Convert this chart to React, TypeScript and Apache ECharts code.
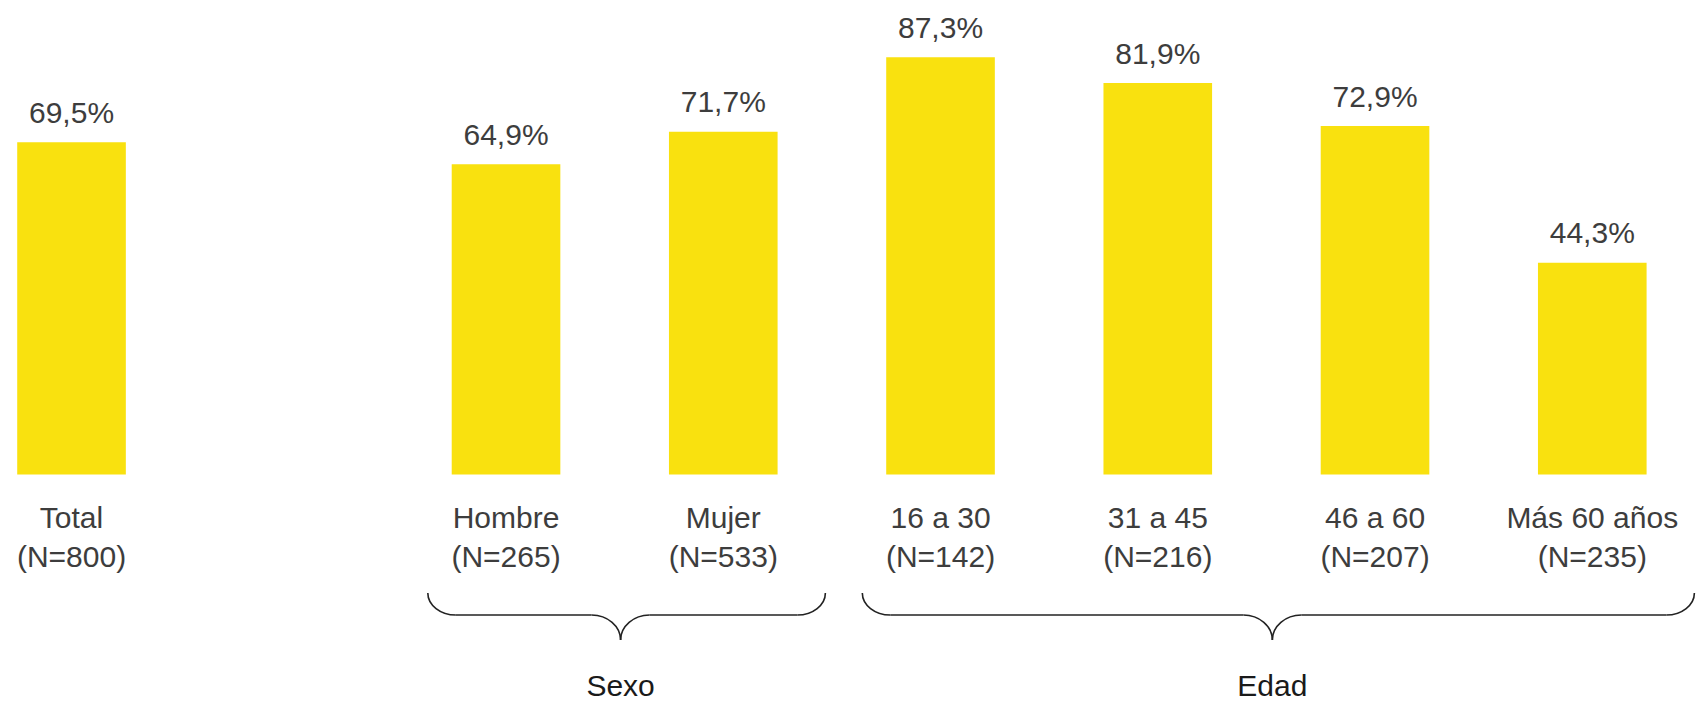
import { useEffect, useRef } from 'react';
import * as echarts from 'echarts';

const categories = [
  'Total\n(N=800)',
  '',
  'Hombre\n(N=265)',
  'Mujer\n(N=533)',
  '16 a 30\n(N=142)',
  '31 a 45\n(N=216)',
  '46 a 60\n(N=207)',
  'Más 60 años\n(N=235)',
];
const values: (number | null)[] = [69.5, null, 64.9, 71.7, 87.3, 81.9, 72.9, 44.3];
const groupNames = ['Sexo', 'Edad'];
const groupFirst = [2, 4];
const groupLast = [3, 7];

const FONT = '"Liberation Sans", Arial, sans-serif';
const BAR = '#F9E10F';

export default function App() {
  const ref = useRef<HTMLDivElement>(null);
  useEffect(() => {
    if (!ref.current) return;
    const chart = echarts.init(ref.current, null, { renderer: 'svg' });
    chart.setOption({
      animation: false,
      grid: {
        left: -37.1,
        width: 1738,
        top: 44.3,
        bottom: 226.5,
        containLabel: false,
        outerBoundsMode: 'none',
      },
      xAxis: {
        type: 'category',
        data: categories,
        axisLine: { show: false },
        axisTick: { show: false },
        axisLabel: {
          interval: 0,
          margin: 23.5,
          fontSize: 30,
          lineHeight: 39,
          color: '#3d3d3d',
          fontFamily: FONT,
          hideOverlap: false,
        },
      },
      yAxis: { type: 'value', min: 0, max: 90, show: false },
      series: [
        {
          type: 'bar',
          data: values,
          barWidth: '50%',
          itemStyle: { color: BAR },
          label: {
            show: true,
            position: 'top',
            distance: 15,
            fontSize: 30,
            color: '#3d3d3d',
            fontFamily: FONT,
            formatter: (p: any) => (p.value == null ? '' : p.value.toFixed(1).replace('.', ',') + '%'),
          },
        },
      ],
    });

    const px = (i: number) => chart.convertToPixel({ xAxisIndex: 0 }, i) as number;
    const band = px(1) - px(0);
    const yTop = 593;
    const yMid = 615;
    const yTip = 640;
    const style = { stroke: '#222', lineWidth: 1.6, fill: 'none' };
    const elements: any[] = [];
    groupNames.forEach((name, g) => {
      const xl = px(groupFirst[g]) - 0.36 * band;
      const xr = px(groupLast[g]) + 0.47 * band;
      const xt = (xl + xr) / 2 - 6;
      const ew = 28;
      const tw = 29;
      const h1 = yMid - yTop;
      const h2 = yTip - yMid;
      elements.push({ type: 'bezierCurve', silent: true, shape: { x1: xl, y1: yTop, cpx1: xl, cpy1: yTop + 0.55 * h1, cpx2: xl + 0.45 * ew, cpy2: yMid, x2: xl + ew, y2: yMid }, style });
      elements.push({ type: 'line', silent: true, shape: { x1: xl + ew, y1: yMid, x2: xt - tw, y2: yMid }, style });
      elements.push({ type: 'bezierCurve', silent: true, shape: { x1: xt - tw, y1: yMid, cpx1: xt - 0.45 * tw, cpy1: yMid, cpx2: xt, cpy2: yTip - 0.55 * h2, x2: xt, y2: yTip }, style });
      elements.push({ type: 'bezierCurve', silent: true, shape: { x1: xt + tw, y1: yMid, cpx1: xt + 0.45 * tw, cpy1: yMid, cpx2: xt, cpy2: yTip - 0.55 * h2, x2: xt, y2: yTip }, style });
      elements.push({ type: 'line', silent: true, shape: { x1: xt + tw, y1: yMid, x2: xr - ew, y2: yMid }, style });
      elements.push({ type: 'bezierCurve', silent: true, shape: { x1: xr, y1: yTop, cpx1: xr, cpy1: yTop + 0.55 * h1, cpx2: xr - 0.45 * ew, cpy2: yMid, x2: xr - ew, y2: yMid }, style });
      elements.push({
        type: 'text',
        silent: true,
        x: xt,
        y: 685,
        style: { text: name, fontSize: 30, fontFamily: FONT, fill: '#1a1a1a', align: 'center', verticalAlign: 'middle' },
      });
    });
    chart.setOption({ graphic: elements });
    return () => chart.dispose();
  }, []);
  return <div ref={ref} style={{ position: 'absolute', left: 0, top: 0, width: 1696, height: 701 }} />;
}
